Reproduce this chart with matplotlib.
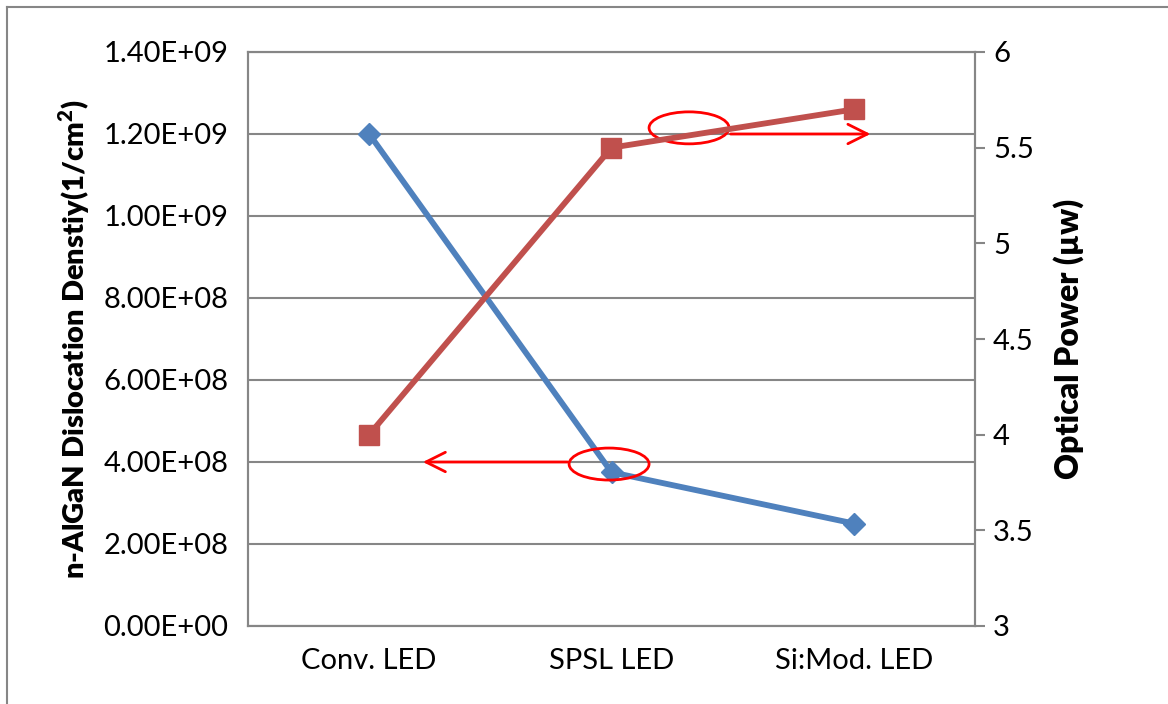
import numpy as np
import matplotlib.pyplot as plt
from matplotlib.patches import Ellipse
from matplotlib.lines import Line2D

categories = ["Conv. LED", "SPSL LED", "Si:Mod. LED"]
dislocation = [1.2e9, 3.75e8, 2.5e8]
optical_power = [4.0, 5.5, 5.7]
left_ticks = np.arange(0, 1.41e9, 2e8)
right_ticks = [3, 3.5, 4, 4.5, 5, 5.5, 6]

plt.rcParams['font.family'] = ['Lato', 'DejaVu Sans']
grid_c = "#868686"
blue = "#4F81BD"
red = "#C0504D"

fig = plt.figure(figsize=(11.68, 7.04), dpi=100)
ax = fig.add_axes([248/1168, 1 - 626/704, 727/1168, 574/704])
ax2 = ax.twinx()

x = np.arange(len(categories)) + 0.5
ax.plot(x, dislocation, color=blue, lw=4.2, marker="D", ms=11, zorder=3)
ax2.plot(x, optical_power, color=red, lw=4.2, marker="s", ms=14, zorder=3)

ax.set_xlim(0, 3)
ax.set_ylim(0, 1.4e9)
ax2.set_ylim(3, 6)
ax.set_yticks(left_ticks)
ax.set_yticklabels([f"{v:.2E}" for v in left_ticks])
ax2.set_yticks(right_ticks)
ax2.set_yticklabels([f"{v:g}" for v in right_ticks])
ax.set_xticks(x)
ax.set_xticklabels(categories)

for v in left_ticks:
    ax.axhline(v, color=grid_c, lw=1.5, zorder=1)

for a in (ax, ax2):
    for s in a.spines.values():
        s.set_color(grid_c)
        s.set_linewidth(1.5)
    a.tick_params(labelsize=21, colors="black", pad=14)
ax.tick_params(axis="y", length=0)
ax.tick_params(axis="x", length=0, pad=16)
ax2.tick_params(axis="y", length=7, width=1.5, color=grid_c, pad=6)

ax.set_ylabel("n-AlGaN Dislocation Denstiy(1/cm$^\\mathregular{2}$)", fontsize=21,
              fontweight="heavy", labelpad=8)
ax2.set_ylabel("Optical Power (µw)", fontsize=23, fontweight="heavy", labelpad=14)

# callouts marking which axis each series belongs to
ax.add_patch(Ellipse((1.82, 1.215e9), 0.33, 0.078e9, fill=False,
                     ec="red", lw=2, zorder=4))
ax.annotate("", xy=(2.58, 1.2e9), xytext=(1.98, 1.2e9),
            arrowprops=dict(arrowstyle="->", color="red", lw=2,
                            mutation_scale=35), zorder=4)
ax.add_patch(Ellipse((1.49, 3.95e8), 0.33, 0.078e9, fill=False,
                     ec="red", lw=2, zorder=4))
ax.annotate("", xy=(0.71, 4.0e8), xytext=(1.33, 4.0e8),
            arrowprops=dict(arrowstyle="->", color="red", lw=2,
                            mutation_scale=35), zorder=4)

# outer frame
fig.add_artist(Line2D([7/1168, 1], [1 - 7/704, 1 - 7/704], color=grid_c, lw=1.5))
fig.add_artist(Line2D([7/1168, 7/1168], [0, 1 - 7/704], color=grid_c, lw=1.5))

fig.savefig("out.png", dpi=100)
